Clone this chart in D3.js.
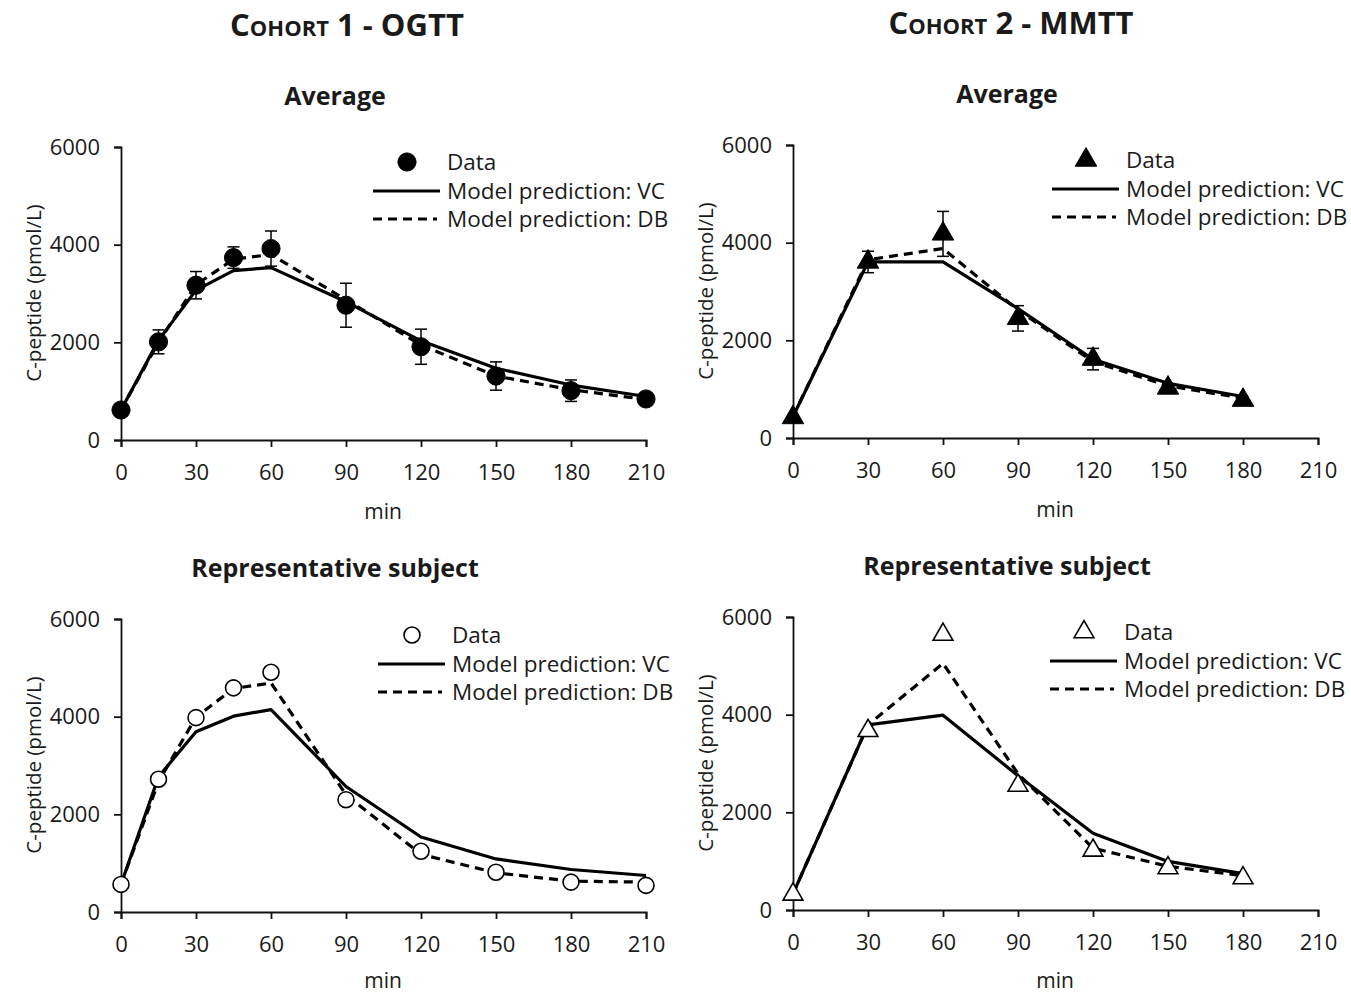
<!DOCTYPE html>
<html>
<head>
<meta charset="utf-8">
<script src="https://cdn.jsdelivr.net/npm/d3@7"></script>
<style>
  html, body { margin: 0; padding: 0; background: #fff; }
  svg { display: block; font-family: "Open Sans", "Noto Sans", sans-serif; }
</style>
</head>
<body>
<svg id="chart" width="1351" height="995"></svg>
<script>
// ---------- data ----------
const xTicks = [0, 30, 60, 90, 120, 150, 180, 210];
const yTicks = [0, 2000, 4000, 6000];

// Cohort 1 - OGTT
const ogttTime = [0, 15, 30, 45, 60, 90, 120, 150, 180, 210];
const ogttAvgData = [614, 2010, 3170, 3735, 3920, 2760, 1910, 1310, 1010, 840];
const ogttAvgErr  = [60, 245, 280, 220, 360, 450, 360, 290, 220, 70];
const ogttAvgVC   = [614, 2040, 3070, 3470, 3530, 2830, 2030, 1470, 1125, 890];
const ogttAvgDB   = [614, 2000, 3180, 3700, 3800, 2870, 1945, 1310, 1030, 830];
const ogttRepData = [565, 2720, 3980, 4590, 4910, 2300, 1245, 815, 612, 545];
const ogttRepVC   = [565, 2770, 3690, 4010, 4145, 2570, 1536, 1087, 870, 748];
const ogttRepDB   = [565, 2670, 3990, 4575, 4690, 2400, 1180, 802, 632, 612];

// Cohort 2 - MMTT
const mmttTime = [0, 30, 60, 90, 120, 150, 180];
const mmttAvgData = [420, 3605, 4180, 2450, 1615, 1025, 775];
const mmttAvgErr  = [40, 220, 460, 260, 220, 80, 60];
const mmttAvgVC   = [440, 3605, 3605, 2650, 1612, 1120, 850];
const mmttAvgDB   = [440, 3650, 3880, 2620, 1565, 1068, 816];
const mmttRepData = [320, 3670, 5640, 2550, 1220, 860, 656];
const mmttRepVC   = [330, 3790, 3990, 2750, 1570, 995, 745];
const mmttRepDB   = [330, 3790, 5050, 2790, 1265, 895, 703];

const legendLabels = ["Data", "Model prediction: VC", "Model prediction: DB"];
const cohortTitles = ["Cohort 1 - OGTT", "Cohort 2 - MMTT"];
const panelTitles = ["Average", "Representative subject"];
const yLabel = "C-peptide (pmol/L)";
const xLabel = "min";

// ---------- drawing ----------
const svg = d3.select("#chart");
const TEXT = "#1a1a1a";

const panels = [
  { left: 121, top: 147, title: panelTitles[0], titleY: 105, time: ogttTime, data: ogttAvgData, err: ogttAvgErr, vc: ogttAvgVC, db: ogttAvgDB, marker: "circle", filled: true, legX: 373, legY: 162 },
  { left: 793, top: 145, title: panelTitles[0], titleY: 103, time: mmttTime, data: mmttAvgData, err: mmttAvgErr, vc: mmttAvgVC, db: mmttAvgDB, marker: "triangle", filled: true, legX: 1052, legY: 160 },
  { left: 121, top: 619, title: panelTitles[1], titleY: 577, time: ogttTime, data: ogttRepData, err: null, vc: ogttRepVC, db: ogttRepDB, marker: "circle", filled: false, legX: 378, legY: 635 },
  { left: 793, top: 617, title: panelTitles[1], titleY: 575, time: mmttTime, data: mmttRepData, err: null, vc: mmttRepVC, db: mmttRepDB, marker: "triangle", filled: false, legX: 1050, legY: 632 }
];

const W = 525, H = 293;

// Cohort titles (small caps)
[[347, 36, cohortTitles[0]], [1011, 34, cohortTitles[1]]].forEach(([x, y, t]) => {
  svg.append("text").attr("x", x).attr("y", y).attr("text-anchor", "middle")
    .attr("font-size", 31).attr("font-weight", "bold").attr("fill", TEXT)
    .style("font-variant", "small-caps").text(t);
});

function markerPath(type, size) {
  return type === "circle"
    ? d3.symbol(d3.symbolCircle, size)()
    : d3.symbol(d3.symbolTriangle, size)();
}

panels.forEach(p => {
  const x = d3.scaleLinear().domain([0, 210]).range([p.left, p.left + W]);
  const y = d3.scaleLinear().domain([0, 6000]).range([p.top + H, p.top]);
  const g = svg.append("g");

  // panel title
  g.append("text").attr("x", p.left + 214).attr("y", p.titleY).attr("text-anchor", "middle")
    .attr("font-size", 25).attr("font-weight", "bold").attr("fill", TEXT).text(p.title);

  // axes
  const xAxis = g.append("g").attr("transform", `translate(0,${p.top + H})`)
    .call(d3.axisBottom(x).tickValues(xTicks).tickSize(7).tickSizeOuter(7).tickPadding(17));
  const yAxis = g.append("g").attr("transform", `translate(${p.left},0)`)
    .call(d3.axisLeft(y).tickValues(yTicks).tickFormat(d3.format("d")).tickSize(7).tickSizeOuter(7).tickPadding(14));
  [xAxis, yAxis].forEach(a => {
    a.selectAll("path, line").attr("stroke", "#111").attr("stroke-width", 1.8);
    a.selectAll("text").attr("font-size", 22).attr("fill", TEXT)
      .attr("font-family", "'Open Sans', sans-serif");
  });

  // axis labels
  g.append("text").attr("x", p.left + 262).attr("y", Math.min(p.top + H + 79, 988)).attr("text-anchor", "middle")
    .attr("font-size", 21).attr("fill", TEXT).text(xLabel);
  g.append("text").attr("transform", `translate(${p.left - 80},${p.top + 146}) rotate(-90)`)
    .attr("text-anchor", "middle").attr("font-size", 20.5).attr("fill", TEXT).text(yLabel);

  // lines
  const pts = (vals) => p.time.map((t, i) => [x(t), y(vals[i])]);
  const line = d3.line();
  g.append("path").attr("d", line(pts(p.vc))).attr("fill", "none")
    .attr("stroke", "#000").attr("stroke-width", 3.2).attr("stroke-linejoin", "round");
  g.append("path").attr("d", line(pts(p.db))).attr("fill", "none")
    .attr("stroke", "#000").attr("stroke-width", 3.2).attr("stroke-dasharray", "9,6");

  // error bars
  if (p.err) {
    p.time.forEach((t, i) => {
      const cx = x(t), y1 = y(p.data[i] + p.err[i]), y2 = y(p.data[i] - p.err[i]);
      g.append("line").attr("x1", cx).attr("x2", cx).attr("y1", y1).attr("y2", y2)
        .attr("stroke", "#000").attr("stroke-width", 1.5);
      [y1, y2].forEach(yy => g.append("line").attr("x1", cx - 6).attr("x2", cx + 6)
        .attr("y1", yy).attr("y2", yy).attr("stroke", "#000").attr("stroke-width", 1.5));
    });
  }

  // markers
  const size = p.marker === "circle" ? (p.filled ? 260 : 200) : (p.filled ? 200 : 170);
  p.time.forEach((t, i) => {
    g.append("path").attr("d", markerPath(p.marker, size))
      .attr("transform", `translate(${x(t)},${y(p.data[i])})`)
      .attr("fill", p.filled ? "#000" : "#fff")
      .attr("stroke", "#000").attr("stroke-width", p.filled ? 1 : 1.6);
  });

  // legend
  const lx = p.legX, ly = p.legY;
  g.append("path").attr("d", markerPath(p.marker, size))
    .attr("transform", `translate(${lx + 34},${ly})`)
    .attr("fill", p.filled ? "#000" : "#fff")
    .attr("stroke", "#000").attr("stroke-width", p.filled ? 1 : 1.6);
  g.append("line").attr("x1", lx).attr("x2", lx + 67).attr("y1", ly + 29).attr("y2", ly + 29)
    .attr("stroke", "#000").attr("stroke-width", 3.2);
  g.append("line").attr("x1", lx).attr("x2", lx + 64).attr("y1", ly + 57).attr("y2", ly + 57)
    .attr("stroke", "#000").attr("stroke-width", 3.2).attr("stroke-dasharray", "9,6");
  legendLabels.forEach((lab, i) => {
    g.append("text").attr("x", lx + 74).attr("y", ly + i * 28.5 + 8)
      .attr("font-size", 22.5).attr("fill", TEXT).text(lab);
  });
});
</script>
</body>
</html>
